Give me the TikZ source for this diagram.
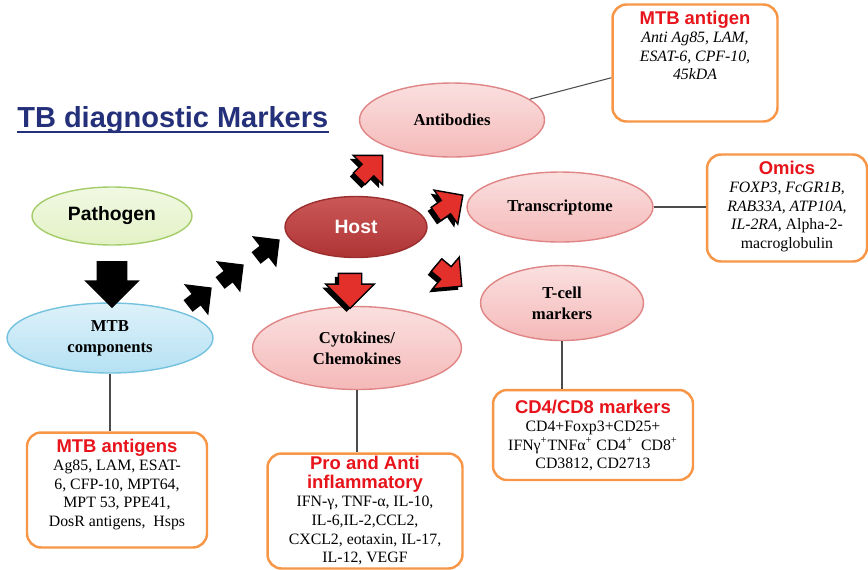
\documentclass[tikz,border=0pt]{standalone}
\usepackage{fontspec}
\setmainfont{Liberation Serif}
\setsansfont{Liberation Sans}
\usetikzlibrary{shapes.geometric,shapes.arrows,shadows,positioning}
\definecolor{navyt}{HTML}{25307A}
\definecolor{redt}{HTML}{E8141B}
\definecolor{orangeb}{HTML}{F79646}
\definecolor{pinkf}{HTML}{F5B9B9}
\definecolor{pinkd}{HTML}{E08585}
\definecolor{hostf}{HTML}{C23A3A}
\definecolor{bluef}{HTML}{B5E1F3}
\definecolor{blued}{HTML}{74C2DE}
\definecolor{greenf}{HTML}{E3F2C6}
\definecolor{greend}{HTML}{A5CC6B}
\definecolor{arrred}{HTML}{E3302A}
\newcommand{\boxtitle}[1]{{\sffamily\bfseries\fontsize{10.5}{12}\selectfont\color{redt}#1}}

\begin{document}
\begin{tikzpicture}
    [x=0.02cm,y=-0.02cm,
     oval/.style={ellipse,inner sep=0pt,align=center,font=\bfseries\fontsize{9.5}{12}\selectfont},
     pinkoval/.style={oval,draw=pinkd,line width=0.8pt,top color=pinkf!45!white,bottom color=pinkf},
     tbox/.style={draw=orangeb,line width=1.4pt,rounded corners=8pt,fill=white},
     btext/.style={align=center,inner sep=0pt,font=\fontsize{9}{10.6}\selectfont},
     link/.style={draw=black!70,line width=0.6pt},
     blkarrow/.style={single arrow,fill=black,inner xsep=0pt,inner ysep=0.14cm,minimum width=0.52cm,minimum height=0.6cm},
     redarrow/.style={single arrow,fill=arrred,draw=black,line width=0.8pt,inner xsep=0pt,inner ysep=0.15cm,minimum width=0.58cm,minimum height=0.66cm,general shadow={fill=black,shadow xshift=-2pt,shadow yshift=-2pt}}]
    \useasboundingbox (0,0) rectangle (868,569);
    \node[anchor=base west,inner sep=0pt,text=navyt,font=\sffamily\bfseries\fontsize{16.5}{18}\selectfont] (title) at (17,127) {TB diagnostic Markers};
    \draw[navyt,line width=1pt] ([yshift=-3pt]title.base west) -- ([yshift=-3pt]title.base east);
    \node[oval,draw=greend,line width=0.8pt,top color=greenf!50!white,bottom color=greenf,font=\sffamily\bfseries\fontsize{11}{13}\selectfont,minimum width=3.2cm,minimum height=1.16cm] (patho) at (112,216) {Pathogen};
    \node[oval,draw=blued,line width=0.8pt,top color=bluef!45!white,bottom color=bluef,minimum width=4.12cm,minimum height=1.4cm] (mtb) at (110,338) {MTB\\components};
    \node[oval,draw=hostf!80!black,line width=0.8pt,top color=hostf!85!white,bottom color=hostf!90!black,text=white,font=\sffamily\bfseries\fontsize{11}{13}\selectfont,minimum width=2.84cm,minimum height=1.22cm] (host) at (356,227) {Host};
    \node[pinkoval,minimum width=3.7cm,minimum height=1.48cm] (anti) at (452,120) {Antibodies};
    \node[pinkoval,minimum width=3.72cm,minimum height=1.4cm] (trans) at (560,207) {Transcriptome};
    \node[pinkoval,minimum width=3.26cm,minimum height=1.5cm] (tcell) at (562,303) {T-cell\\markers};
    \node[pinkoval,minimum width=4.18cm,minimum height=1.66cm] (cyto) at (357,348) {Cytokines/\\Chemokines};
    \node[single arrow,fill=black,inner xsep=0pt,inner ysep=0.3cm,minimum width=1.1cm,minimum height=0.94cm,rotate=-90] (down) at (112,277) {};
    \node[blkarrow,rotate=38] (d1) at (197,299) {};
    \node[blkarrow,rotate=38] (d2) at (229,276) {};
    \node[blkarrow,rotate=38] (d3) at (265,251) {};
    \node[redarrow,rotate=45] (r1) at (368,170) {};
    \node[redarrow,rotate=35] (r2) at (446,207) {};
    \node[redarrow,rotate=-90,inner ysep=0.22cm,minimum width=0.9cm,minimum height=0.7cm] (r3) at (350,285) {};
    \node[redarrow,rotate=-40] (r4) at (446,273) {};
    \node[tbox,minimum width=3.3cm,minimum height=2.34cm] (mtbag) at (695,63) {};
    \node[btext,below=4pt of mtbag.north] (mtbagt) {\boxtitle{MTB antigen}\\ \textit{Anti Ag85, LAM,}\\ \textit{ESAT-6, CPF-10,}\\ \textit{45kDA}};
    \node[tbox,minimum width=3.2cm,minimum height=2.14cm] (omics) at (787,208) {};
    \node[btext,below=4pt of omics.north] (omicst) {\boxtitle{Omics}\\ \textit{FOXP3, FcGR1B,}\\ \textit{RAB33A, ATP10A,}\\ \textit{IL-2RA,} Alpha-2-\\ macroglobulin};
    \node[tbox,minimum width=4cm,minimum height=1.8cm] (cd4) at (593,435) {};
    \node[btext,below=6pt of cd4.north] (cd4t) {\boxtitle{CD4/CD8 markers}\\ CD4+Foxp3+CD25+\\ IFNγ\textsuperscript{+}TNFα\textsuperscript{+} CD4\textsuperscript{+}~~CD8\textsuperscript{+}\\ CD3812, CD2713};
    \node[tbox,minimum width=3.9cm,minimum height=2.3cm] (pro) at (365,511) {};
    \node[btext,below=2pt of pro.north] (prot) {\boxtitle{Pro and Anti}\\ \boxtitle{inflammatory}\\ IFN-γ, TNF-α, IL-10,\\ IL-6,IL-2,CCL2,\\ CXCL2, eotaxin, IL-17,\\ IL-12, VEGF};
    \node[tbox,minimum width=3.6cm,minimum height=2.3cm] (ags) at (117,490) {};
    \node[btext,below=4pt of ags.north] (agst) {\boxtitle{MTB antigens}\\ Ag85, LAM, ESAT-\\ 6, CFP-10, MPT64,\\ MPT 53, PPE41,\\ DosR antigens,~ Hsps};
    \draw[link] (mtb.south) -- (mtb.south |- ags.north);
    \draw[link] (cyto.south) -- (cyto.south |- pro.north);
    \draw[link] (tcell.south) -- (tcell.south |- cd4.north);
    \draw[link] (trans.east) -- (trans.east -| omics.west);
    \draw[link] (anti.15) -- (mtbag.190);
  \end{tikzpicture}
\end{document}
